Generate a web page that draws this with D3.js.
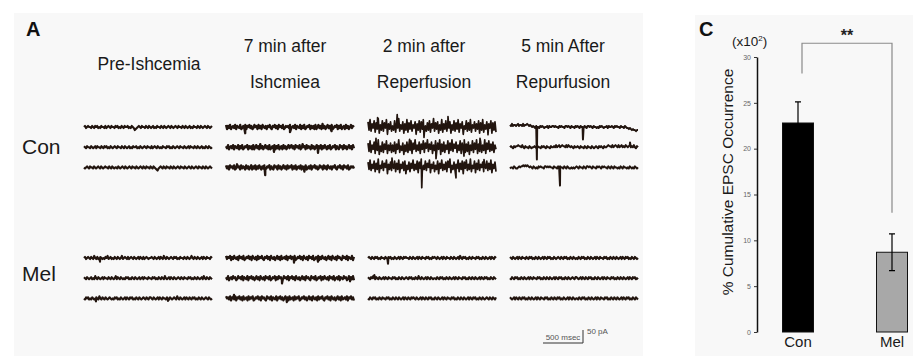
<!DOCTYPE html>
<html><head><meta charset="utf-8">
<script src="https://cdn.jsdelivr.net/npm/d3@7"></script>
<style>
body{margin:0;background:#fff}
svg{display:block;font-family:"Liberation Sans",Arial,Helvetica,sans-serif}
</style>
</head><body>
<svg id="fig" width="913" height="356"></svg>
<script>
// ---------------- DATA ----------------
// Panel A column headers (one entry per recording condition)
const headerLines = [["Pre-Ishcemia"], ["7 min after", "Ishcmiea"], ["2 min after", "Reperfusion"], ["5 min After", "Repurfusion"]];
const groupNames = ["Con", "Mel"];
const traceDurationMs = 1600;
// Each trace string: evenly spaced samples over 1600 ms; level = parseInt(ch,36) - 10,
// one level = 4 pA of inward (downward) current ('a' = baseline, '9' = +4 pA, 'b' = -4 pA).
const conTraces = [
  ["a9ba9aab9ab9a9bab9aab9ba9ab9aab9a9bab9ab9aa9bab9abdcba9ab9aab9ab9aba9bab9aab9ab9aba9ab9aba9ab9aab9ab9aba9bab9aab9ab9aba9ab9aba9",
   "9ab9aab9aba9b9aab9ab9a9bab9aba9ab9aab9ab9aba9bab9aa9bab9aba9ab9aab9ba9ab9abab9aab9a9bab9aba9ab9aab9aba9b9aab9ab9aba9bab9ab9aba",
   "aba9ab9aab9aba9ab9aba9aab9ab9abaab9aba9ab9aba9ab9aab9aba9ab9ab9aab9ab9abcdba9ab9ab9aab9ab9aba9ab9aab9aba9ab9aba9ab9aab9ab9aba9ab"],
  ["8c9b8ca9b8c9ab8cb9b8c9a8b9cb8a9c8b9c8ab9c9a8bc9a8b9c8a9b8cb9a9b8ca9b8c9ab8c9b8cb9a8c9b9c8ca8b9c7b9ca8b9c8cb9a8c9b8ca9c8b9ca8b9a",
   "9b8ca9b8c9ab8c9b8cb9a8c9b9c8ca8b9c7b9ca8b9c8cb9a8c9b8ca9c8b9ca8b98b9c8a9b8cb7a9c8b9ac8b9ca8c9b8c9b8ac9b8cb9a8c9bc8a9c8b9ca8b9c8b",
   "8b9c8a9b8cb7a9c8b9ac8b9ca8c9b8c9b8ac9b8cb9a8c9bc8a9c8b9ca8b9c8b9a8c9b8ca9b8c9ab8cb9b8c9a8b9cb8a9c8b9c8ab9c9a8bc9a8b9c8a9b8cb9a9b"],
  ["5d3e7b4f6c2g8d4e6b3h7c5e9d4f6b2e8c5g7d3f6c4e8b5h7d4f5c3g9e6d4f7b2e6c5g8d3f7c4e6b5g8d4e6c3f7b5h9c4e6d3f8b5e7c4g6d3f8c5e7b4g6d5f",
   "6e4f8c5g7d3h9e5f7c4g8d6f8e5g7c3f9d6h8e5f7d4g6c3e8d5g7c4f6b3e7c5g8d4f6c3h7e5f8c4g6d3e7b5f8d4g6c3f7e5h8d4f6c3g7e5f8d3g6c4e7d5f8c",
   "5c3d7b4e6c2f8b4d6a3g7c5d8b4e6c3f7b5d4g8c5e6b3d7c4f5b2e8c4d6a3f7b5e8c4g6b3d7c5e4a2f8c5d7b3e6c4g5b3d7c2e8b4f6c3d7a5e8b4d6c3f7b5e"],
  ["8979889879889798878989a9ab9aab9a9abaa9b9aa99a9aab9a9aab99a9ab9aab9a9ab9aab9ab99a9ab9aabab9a9abaa9b9aa9ab9a9aab9aab9abbcbcdcddedd",
   "a9ab9a99899a8ab9aab9abaa9ab9aab9a9ab9aab9aa9a8a98a9899a8a89a9ab9aa9ab9aab9ab9aab9aba9ab9a9ab9aa9899a8a989a8a98a9a89a98a9a8ab9a",
   "baab9abba9a99898989a9ab9abab9a9aab99a9a9aab9aab9a9aab9ab9abbababa9ab9aab9ab99a9ab9aab9a9ab9a9aab9ab9ab9aabab9ab9aabab9abab9aba"]
];
const melTraces = [
  ["a9ba9ab9ab8ab9ba9abab9a8ba9bab9ab9aba8ba9ab9ba9ab9aba9b9ab9ba9abaa9ab9aba9b9ab8ab9aba9ab9a9bab9aab9ab9aba8ab9ab9aba9b9ab9aab9a",
   "9ab9aba9bab8ab9aba9b9aab9ab9aba8b9ab9abab9a9bab9ab9aba9ba9b9aab9aab9a9bab9ab9ab8aba9b9ab9aba9ab9ab9aab9a9bab9ab9aba9b8ab9ab9ab",
   "ab9a9bab9aba9ab8ab9ab9aba9abab9a9bab9aba9b9ab9a9bab9ab9aba9ab9ab99ab9aba9b9ab9aab9ab9aba9ab8ab9aba9b9ab9ab9a9bab9ab9aba9ab9aba"],
  ["8b9a8c9b8ab9c8a9b8cb9a8b9c8ab9c8b9a8bc9a8b9c8ab9ca8b9c8ba9b8c9a8b9a8cb9a8b9c8ab9c8a9b8cb9a8c9b8ab9ca8b9c8ab9c8a9bc8a9b8c9ab8c9",
   "9b8ca9b8a9cb8a9b8c9ab8c9a8b9ca8b9c8ab9c8a9b8cb9a8c9b8a9cb8a9b8c9a8b9c8ab9ca8b9c8a9bc8a9b8cb9a8c9b8ab9c8a9b8ca9b8c9ab8a9cb8a9b8c",
   "8a9b8c9ab8c9a8b9c8ba9c8b9a8cb9a8b9c8a9bc8a9b8c9ab8c9a8b9ca8b9c8ba9c8b9a8cb9a8b9ca8b9c8ab9c8b9a8bc9a8b9c8ab9ca8b9c8ba9b8c9a8b9c"],
  ["a9ab9ab9a9bab9aab9ab9a9bab9aba9b9ab9a9aab9ab9aba9b9ab9aab9a9bab9a9ab9aba9b9ab9aab9ab9aba9b8ab9a9bab9ab9aab9a9bab9ab9aba9b9ab9a",
   "9ab9a8ab9ab9aba9b9ab9aab9a9bab9ab9aba9ab9a9bab9ab8ab9aba9b9ab9abaab9ab9a9bab9ab9aba9b9ab9aab9a9bab9ab9ab9aba9b9ab9a9bab9ab9ab",
   "ab9ab9a9bab9ab9aab9a9bab9ab9ab9aba9b9ab9ab9a9ab9aba9b9ab9ab9a9bab9ab9aba9b9ab9aab9a9bab9ab9ab9aba9b9ab9a9bab9ab9aba9ab9ab9ab9"],
  ["9ab9aba9b9ab9aab9ab9a9bab9ab9aba9b9ab9a9bab9aba9ab9ab9a9bab9ab9abab9ab9a9bab9ab9aba9b9ab9aab9a9bab9ab9ab9aba9b9ab9a9bab9ab9aba",
   "ab9ab9a9bab9ab9aba9b9ab9aab9a9bab9ab9ab9aba9b9ab9a9bab9ab9aba9ab99aba9b9ab9ab9a9bab9ab9aba9b9ab9aab9a9bab9ab9ab9aba9b9ab9a9bab",
   "9aba9b9ab9ab9a9bab9ab9aba9b9ab9aab9a9bab9ab9ab9a9bab9aba9b9ab9abaab9ab9a9bab9ab9aba9b9ab9aab9a9bab9ab9ab9aba9b9ab9a9bab9ab9ab"]
];
// Discrete synaptic events: [column, row, time (ms), amplitude (pA)]
const conEvents = [
  [1,0,240,-24],[1,0,800,-20],[1,0,1320,-16],[1,1,600,-18],[1,1,1150,-22],[1,2,490,-30],[1,2,980,-16],
  [2,0,120,36],[2,0,365,48],[2,0,700,-40],[2,0,1000,40],[2,0,1500,-30],
  [2,1,100,34],[2,1,520,30],[2,1,850,-44],[2,1,1200,-34],[2,1,1400,34],
  [2,2,300,36],[2,2,672,-78],[2,2,1100,-40],[2,2,1450,30],
  [3,0,336,-125],[3,0,912,-48],[3,1,1500,18],[3,2,625,-70]
];
const melEvents = [
  [0,0,200,-14],[0,2,150,-12],[0,2,1050,-10],
  [1,0,850,-18],[1,0,1150,-14],[1,1,700,-20],[1,1,1550,-12],[1,2,100,14],[1,2,760,-14],
  [2,0,250,-22],[2,1,80,12]
];
const scaleBarMs = 500, scaleBarPA = 50;

// Panel C
const barCats = ["Con", "Mel"];
const barValues = [22.8, 8.7];
const barErrors = [2.3, 2.0];
const yTicks = [0, 5, 10, 15, 20, 25, 30];
const sigText = "**";
const sigBracket = { left: 28.2, top: 31.5, right: 13.0 };

// ---------------- DRAW ----------------
const svg = d3.select("#fig");
const dark = "#22150f";

// panel backgrounds
svg.append("rect").attr("x", 14).attr("y", 13).attr("width", 629).attr("height", 343).attr("fill", "#f8f8f8");
svg.append("rect").attr("x", 695).attr("y", 15).attr("width", 218).attr("height", 341).attr("fill", "#f8f8f8");

// ---- Panel A ----
svg.append("text").attr("x", 26).attr("y", 36).attr("font-size", 20).attr("font-weight", "bold").attr("fill", "#111").text("A");

const colX = d3.scaleBand().domain(d3.range(headerLines.length)).range([84, 652]);
const headerCx = [149, 285, 424, 563];
headerLines.forEach((lines, c) => {
  lines.forEach((ln, i) => {
    svg.append("text").attr("x", headerCx[c]).attr("y", 70 - (lines.length - 1) * 18 + i * 36)
      .attr("text-anchor", "middle").attr("font-size", 17.5).attr("fill", "#1a1a1a").text(ln);
  });
});

const tx = d3.scaleLinear().domain([0, traceDurationMs]).range([0, 128]);
const ty = d3.scaleLinear().domain([0, scaleBarPA]).range([0, -13]);
const line = d3.line().x(d => tx(d[0])).y(d => ty(d[1]));
const strokeW = { Con: [2.1, 2.3, 1.7, 2.0], Mel: [2.1, 2.2, 2.1, 2.1] };

function decode(str, events, c, r) {
  const n = str.length;
  const pts = Array.from(str, (ch, i) => [i * traceDurationMs / (n - 1), -(parseInt(ch, 36) - 10) * 4]);
  events.filter(e => e[0] === c && e[1] === r).forEach(e => pts.push([e[2], e[3]]));
  pts.sort((a, b) => a[0] - b[0]);
  return pts;
}

const groupTop = { Con: 127, Mel: 258 };
const rowStep = 20.2;
[[conTraces, conEvents, "Con"], [melTraces, melEvents, "Mel"]].forEach(([traces, events, name]) => {
  traces.forEach((col, c) => {
    col.forEach((str, r) => {
      svg.append("path")
        .attr("transform", `translate(${colX(c)},${groupTop[name] + r * rowStep})`)
        .attr("d", line(decode(str, events, c, r)))
        .attr("fill", "none").attr("stroke", dark).attr("stroke-width", strokeW[name][c])
        .attr("stroke-linejoin", "round");
    });
  });
  svg.append("text").attr("x", 22).attr("y", groupTop[name] + rowStep + (name === "Con" ? 7 : 3))
    .attr("font-size", 21).attr("fill", "#1a1a1a").text(name);
});

// scale bar
const sbx = 543, sby = 343;
svg.append("path").attr("d", `M${sbx},${sby}H${sbx + tx(scaleBarMs)}V${sby + ty(scaleBarPA)}`)
  .attr("fill", "none").attr("stroke", "#333").attr("stroke-width", 1);
svg.append("text").attr("x", sbx + tx(scaleBarMs) / 2).attr("y", sby - 3).attr("text-anchor", "middle")
  .attr("font-size", 8).attr("fill", "#555").text(scaleBarMs + " msec");
svg.append("text").attr("x", sbx + tx(scaleBarMs) + 4).attr("y", sby - 9)
  .attr("font-size", 8).attr("fill", "#555").text(scaleBarPA + " pA");

// ---- Panel C ----
svg.append("text").attr("x", 699).attr("y", 36).attr("font-size", 20).attr("font-weight", "bold").attr("fill", "#111").text("C");
const yC = d3.scaleLinear().domain([0, 30]).range([332, 57]);
const xC = d3.scalePoint().domain(barCats).range([798, 892]);
const barW = 31;

const axis = svg.append("g").attr("transform", "translate(757,0)")
  .call(d3.axisLeft(yC).tickValues(yTicks).tickSize(3).tickSizeOuter(0).tickPadding(3));
axis.select(".domain").attr("stroke", "#111").attr("stroke-width", 1.5);
axis.selectAll(".tick line").attr("stroke", "#333");
axis.selectAll(".tick text").attr("font-size", 7).attr("fill", "#666").attr("font-family", "Liberation Sans, Arial, sans-serif");

svg.append("text").attr("transform", "translate(733,182) rotate(-90)").attr("text-anchor", "middle")
  .attr("font-size", 15.5).attr("fill", "#1a1a1a").text("% Cumulative EPSC Occurrence");

const unitT = svg.append("text").attr("x", 732).attr("y", 46).attr("font-size", 13.5).attr("fill", "#1a1a1a");
unitT.append("tspan").text("(x10");
unitT.append("tspan").attr("font-size", 8).attr("dy", -5).text("2");
unitT.append("tspan").attr("dy", 5).text(")");

svg.selectAll("rect.bar").data(barCats).join("rect").attr("class", "bar")
  .attr("x", d => xC(d) - barW / 2).attr("width", barW)
  .attr("y", (d, i) => yC(barValues[i])).attr("height", (d, i) => yC(0) - yC(barValues[i]))
  .attr("fill", (d, i) => i === 0 ? "#000" : "#a8a8a8")
  .attr("stroke", "#111").attr("stroke-width", 1);

barCats.forEach((d, i) => {
  const x = xC(d), hi = yC(barValues[i] + barErrors[i]), lo = yC(barValues[i] - barErrors[i]);
  svg.append("path").attr("d", `M${x},${lo}V${hi}M${x - 3},${hi}H${x + 3}M${x - 3},${lo}H${x + 3}`)
    .attr("stroke", "#000").attr("stroke-width", 1.2).attr("fill", "none");
  svg.append("text").attr("x", x).attr("y", 347).attr("text-anchor", "middle")
    .attr("font-size", 15).attr("fill", "#1a1a1a").text(d);
});

// significance bracket
const bx0 = xC(barCats[0]) + 4, bx1 = xC(barCats[1]);
svg.append("path").attr("d", `M${bx0},${yC(sigBracket.left)}V${yC(sigBracket.top)}H${bx1}V${yC(sigBracket.right)}`)
  .attr("fill", "none").attr("stroke", "#8a8a8a").attr("stroke-width", 1.2);
svg.append("text").attr("x", (bx0 + bx1) / 2).attr("y", 41).attr("text-anchor", "middle")
  .attr("font-size", 16).attr("font-weight", "bold").attr("fill", "#222").text(sigText);
</script>
</body></html>
